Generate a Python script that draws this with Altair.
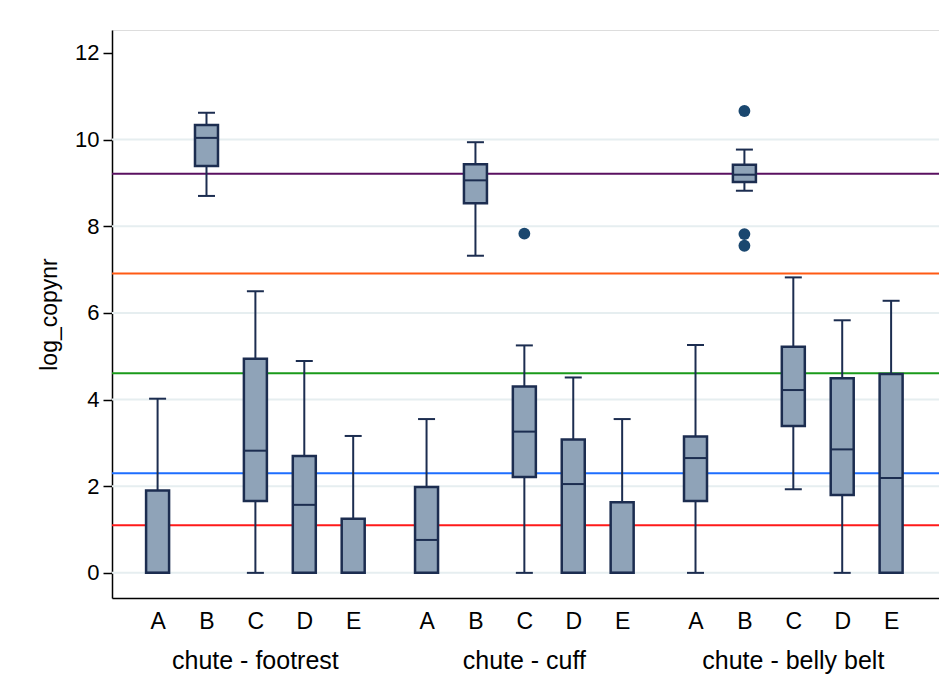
import altair as alt
import pandas as pd

groups = ["chute - footrest", "chute - cuff", "chute - belly belt"]
cats = ["A", "B", "C", "D", "E"]

# per box, order: footrest A-E, cuff A-E, belly belt A-E
whisk_lo = [0.00, 8.70, 0.00, 0.00, 0.00,
            0.00, 7.32, 0.00, 0.00, 0.00,
            0.00, 8.82, 1.93, 0.00, 0.00]
q1 = [0.00, 9.39, 1.66, 0.00, 0.00,
      0.00, 8.53, 2.21, 0.00, 0.00,
      1.66, 9.02, 3.39, 1.80, 0.00]
median = [0.00, 10.04, 2.82, 1.57, 0.00,
          0.76, 9.06, 3.26, 2.05, 0.00,
          2.65, 9.19, 4.22, 2.85, 2.19]
q3 = [1.90, 10.34, 4.94, 2.70, 1.25,
      1.98, 9.43, 4.30, 3.08, 1.63,
      3.15, 9.42, 5.22, 4.49, 4.59]
whisk_hi = [4.02, 10.62, 6.50, 4.89, 3.16,
            3.55, 9.94, 5.25, 4.51, 3.55,
            5.26, 9.77, 6.82, 5.83, 6.28]

out_group = ["chute - cuff", "chute - belly belt", "chute - belly belt", "chute - belly belt"]
out_cat = ["C", "B", "B", "B"]
out_value = [7.83, 10.66, 7.82, 7.55]

ref_values = [9.21, 6.91, 4.61, 2.30, 1.10]
ref_colors = ["#5a1060", "#ff5a14", "#1a9a1a", "#1e6eff", "#ff1a1a"]

grid_values = [0, 2, 4, 6, 8, 10]
y_ticks = [0, 2, 4, 6, 8, 10, 12]

GROUP_STEP = 5.5


def pos(g, c):
    return groups.index(g) * GROUP_STEP + cats.index(c)


rows = []
i = 0
for g in groups:
    for c in cats:
        rows.append(dict(group=g, cat=c, pos=pos(g, c), lo=whisk_lo[i], q1=q1[i],
                         med=median[i], q3=q3[i], hi=whisk_hi[i]))
        i += 1
box_df = pd.DataFrame(rows)
out_df = pd.DataFrame(dict(group=out_group, cat=out_cat, value=out_value))
out_df["pos"] = [pos(g, c) for g, c in zip(out_group, out_cat)]
ref_df = pd.DataFrame(dict(v=ref_values, col=ref_colors))
grid_df = pd.DataFrame(dict(v=grid_values))
glab_df = pd.DataFrame(dict(label=groups, pos=[k * GROUP_STEP + 2 for k in range(len(groups))]))

W, H = 827, 568
FONT = "Liberation Sans"
xscale = alt.Scale(domain=[-0.83, 15.877], nice=False, zero=False)
yscale = alt.Scale(domain=[-0.58, 12.53], nice=False, zero=False)

tick_positions = [pos(g, c) for g in groups for c in cats]

x_axis = alt.Axis(values=tick_positions, title=None, grid=False, ticks=False,
                  labelExpr="['A','B','C','D','E'][round(datum.value % 5.5)]",
                  labelFontSize=23, labelColor="black", labelPadding=12,
                  domainColor="black", domainWidth=1.5, labelFont=FONT)
y_axis = alt.Axis(values=y_ticks, title="log_copynr", grid=False, tickSize=9,
                  tickColor="black", tickWidth=1.5, labelFontSize=22, labelColor="black",
                  labelPadding=4, domainColor="black", domainWidth=1.5,
                  titleFontSize=23, titleFontWeight="normal", titleColor="black",
                  titlePadding=13, labelFont=FONT, titleFont=FONT)

base = alt.Chart(box_df)

grid = alt.Chart(grid_df).mark_rule(color="#e6eef0", strokeWidth=2).encode(
    y=alt.Y("v:Q", scale=yscale, axis=y_axis),
)

refs = alt.Chart(ref_df).mark_rule(strokeWidth=2).encode(
    y=alt.Y("v:Q", scale=yscale),
    color=alt.Color("col:N", scale=None),
)

NAVY = "#1c2d50"
whiskers = base.mark_rule(color=NAVY, strokeWidth=2).encode(
    x=alt.X("pos:Q", scale=xscale, axis=x_axis),
    y=alt.Y("lo:Q", scale=yscale),
    y2="hi:Q",
)
cap_lo = base.mark_tick(color=NAVY, orient="horizontal", size=17, thickness=2, opacity=1).encode(
    x=alt.X("pos:Q", scale=xscale), y=alt.Y("lo:Q", scale=yscale))
cap_hi = base.mark_tick(color=NAVY, orient="horizontal", size=17, thickness=2, opacity=1).encode(
    x=alt.X("pos:Q", scale=xscale), y=alt.Y("hi:Q", scale=yscale))
boxes = base.mark_bar(orient="vertical", size=23, fill="#8fa3b8", stroke=NAVY,
                      strokeWidth=2.5).encode(
    x=alt.X("pos:Q", scale=xscale), y=alt.Y("q1:Q", scale=yscale), y2="q3:Q")
medians = base.mark_tick(color=NAVY, orient="horizontal", size=23, thickness=2, opacity=1).encode(
    x=alt.X("pos:Q", scale=xscale), y=alt.Y("med:Q", scale=yscale))
outliers = alt.Chart(out_df).mark_circle(size=140, color="#1a476f", opacity=1).encode(
    x=alt.X("pos:Q", scale=xscale), y=alt.Y("value:Q", scale=yscale))
glabels = alt.Chart(glab_df).mark_text(fontSize=25, font=FONT, color="black",
                                       baseline="middle", align="center").encode(
    x=alt.X("pos:Q", scale=xscale), y=alt.value(H + 63), text="label:N")

chart = alt.layer(grid, refs, whiskers, cap_lo, cap_hi, boxes, medians, outliers, glabels).properties(
    width=W, height=H,
    padding={"left": 104, "top": 22, "right": 0, "bottom": 85},
    autosize=alt.AutoSizeParams(type="none"),
).configure_view(stroke=None).configure(background="white")

chart.save("out.html", embed_options={"renderer": "svg", "actions": False})
